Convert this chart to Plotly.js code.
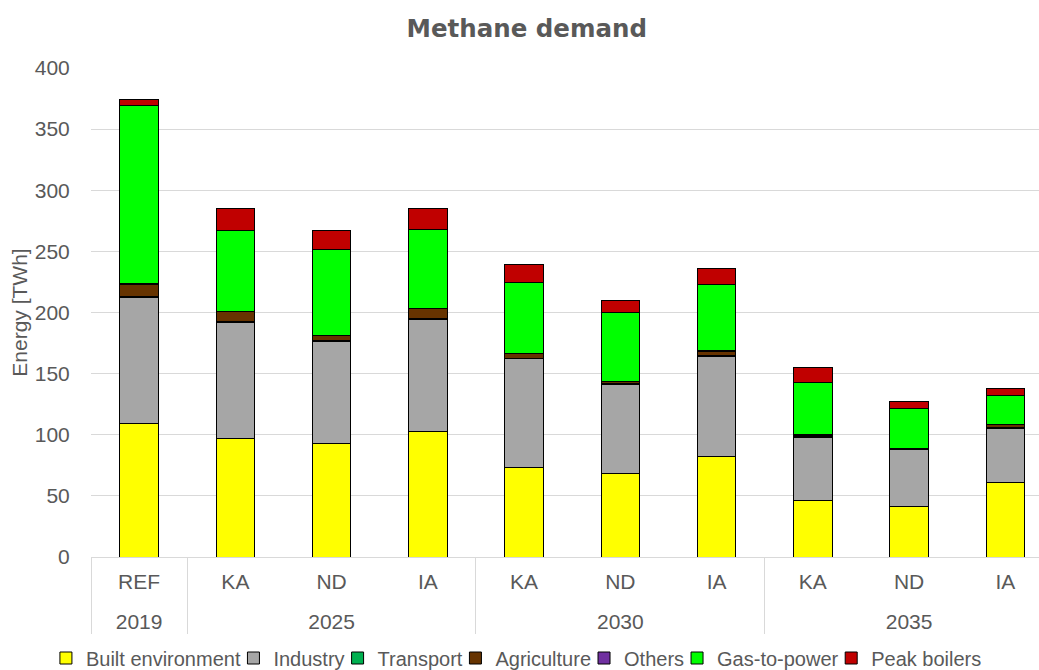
<!DOCTYPE html>
<html>
<head>
<meta charset="utf-8">
<script src="https://cdn.plot.ly/plotly-3.0.1.min.js"></script>
<style>html,body{margin:0;padding:0;background:#fff;}#chart{width:1039px;height:670px;}</style>
</head>
<body>
<div id="chart"></div>
<script>
// Category labels (two levels)
const years     = ['2019','2025','2025','2025','2030','2030','2030','2035','2035','2035'];
const scenarios = ['REF','KA','ND','IA','KA','ND','IA','KA','ND','IA'];

// Series values [TWh]
const builtEnvironment = [109, 97, 93, 103, 73.5, 68, 82, 46.5, 41, 61];
const industry         = [103, 95, 83, 91, 88.5, 73, 82, 51, 47, 44.5];
const transport        = [1, 0.5, 1, 1, 0.3, 1, 0.5, 1, 0.1, 0.5];
const agriculture      = [10, 8, 4, 8, 4, 1.5, 4, 1, 0.2, 2];
const others           = [0.5, 0.3, 0.3, 0.3, 0.2, 0.3, 0.3, 0.3, 0.1, 0.2];
const gasToPower       = [146, 66, 70, 65, 58, 56, 54, 43, 33, 24];
const peakBoilers      = [5, 18, 16, 17, 15, 10, 13, 12.5, 5.5, 6];

const seriesNames  = ['Built environment','Industry','Transport','Agriculture','Others','Gas-to-power','Peak boilers'];
const seriesValues = [builtEnvironment, industry, transport, agriculture, others, gasToPower, peakBoilers];
const seriesColors = ['#FFFF00','#A6A6A6','#00B050','#663300','#7030A0','#00FF00','#C00000'];

const textColor = '#595959';
const gridColor = '#D9D9D9';
const baseFont = 'Liberation Sans, Arial, sans-serif';
const fontSize = 21;
const legendFontSize = 20;

// Measure legend text to tighten legend entry spacing (styling only)
const ctx = document.createElement('canvas').getContext('2d');
ctx.font = legendFontSize + 'px "Liberation Sans"';
const legendTighten = 12;

// Invisible tall glyphs widen the gap between the two label levels (styling only)
const gapSpan = '<span style="font-size:39.5px;color:rgba(0,0,0,0)">.</span>';
const scenarioLabels = scenarios.map(s => gapSpan + s + gapSpan);

const traces = seriesNames.map((name, i) => {
  const tw = ctx.measureText(name).width;
  return {
    type: 'bar',
    name: name,
    x: [years, scenarioLabels],
    y: seriesValues[i],
    legendwidth: i < seriesNames.length - 1 ? Math.max(10, tw - legendTighten) : tw + 2,
    marker: { color: seriesColors[i], line: { color: '#000000', width: 1 } }
  };
});

const layout = {
  width: 1039,
  height: 670,
  paper_bgcolor: '#ffffff',
  plot_bgcolor: '#ffffff',
  barmode: 'stack',
  bargap: 0.6,
  margin: { l: 91, r: 0, t: 68, b: 113, pad: 0 },
  font: { family: baseFont, color: textColor, size: fontSize },
  title: {
    text: 'Methane demand',
    font: { family: 'DejaVu Sans, sans-serif', size: 24.5, weight: 'bold', color: textColor },
    xref: 'container', x: 0.507, xanchor: 'center',
    yref: 'container', y: 0.958, yanchor: 'middle'
  },
  xaxis: {
    type: 'multicategory',
    range: [-0.5, 9.35],
    showline: true,
    linecolor: gridColor,
    linewidth: 1,
    showgrid: false,
    ticklabelstandoff: 6,
    showdividers: true,
    dividercolor: gridColor,
    dividerwidth: 1,
    tickfont: { family: baseFont, size: fontSize, color: textColor },
    automargin: false
  },
  yaxis: {
    range: [0, 400],
    dtick: 50,
    showgrid: true,
    gridcolor: gridColor,
    gridwidth: 1,
    zeroline: false,
    showline: false,
    ticks: 'outside',
    ticklen: 16,
    tickcolor: 'rgba(0,0,0,0)',
    tickfont: { family: baseFont, size: fontSize, color: textColor },
    title: { text: 'Energy [TWh]', font: { family: baseFont, size: fontSize, color: textColor }, standoff: 1 },
    automargin: false
  },
  showlegend: true,
  legend: {
    orientation: 'h',
    traceorder: 'normal',
    xref: 'container', x: 0.498, xanchor: 'center',
    yref: 'container', y: 1 - 658 / 670, yanchor: 'middle',
    font: { family: baseFont, size: legendFontSize, color: textColor },
    bgcolor: 'rgba(0,0,0,0)'
  }
};

Plotly.newPlot('chart', traces, layout, { displayModeBar: false, staticPlot: true });
</script>
</body>
</html>
